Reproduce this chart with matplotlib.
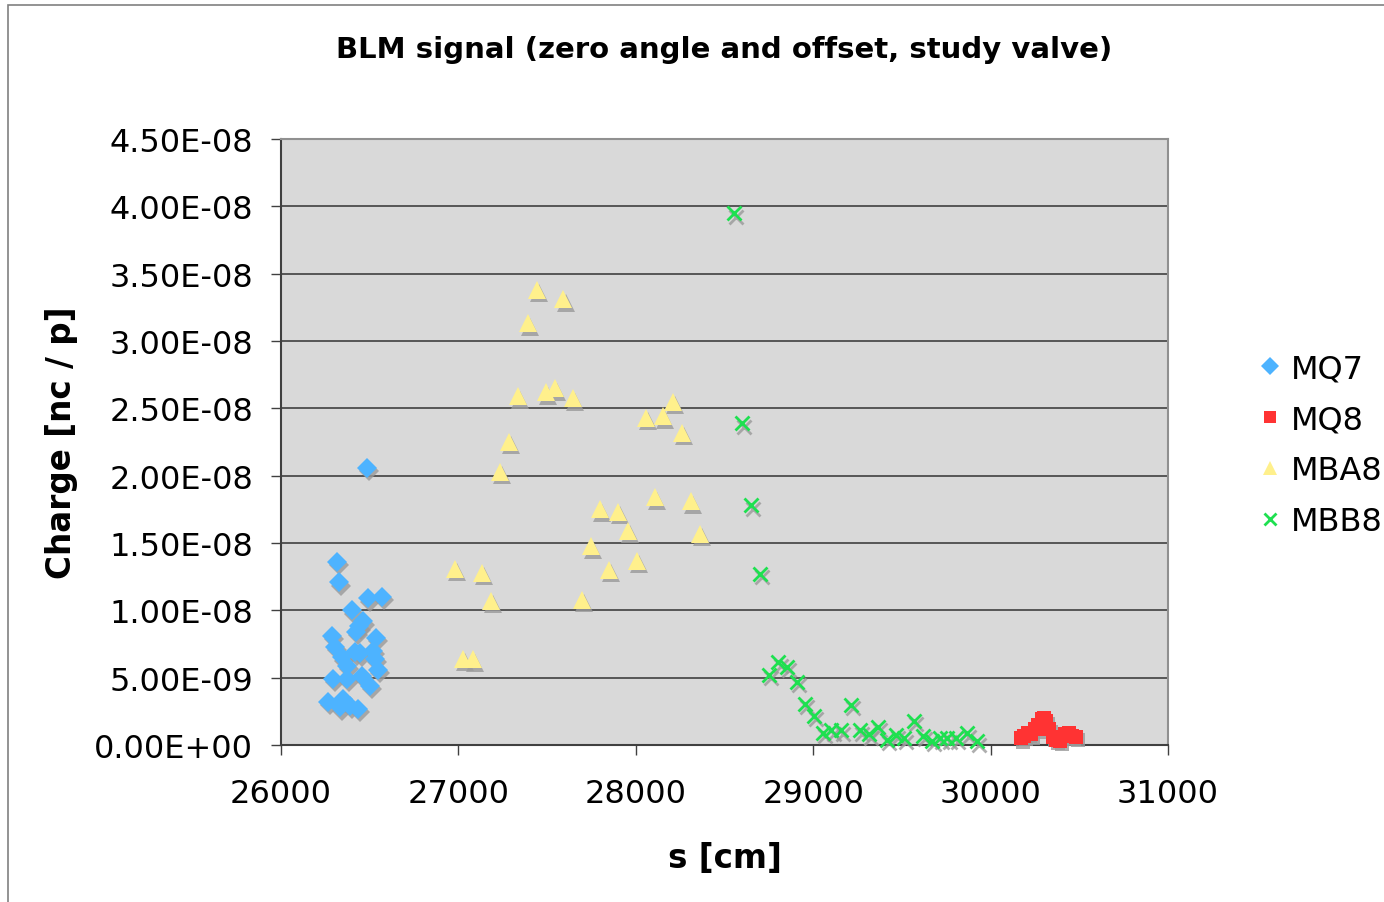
import matplotlib.pyplot as plt
import matplotlib.transforms as mtransforms
from matplotlib.patches import Rectangle
from matplotlib.ticker import FuncFormatter

# MQ7 (blue diamonds)
mq7_s = [26483, 26317, 26329, 26492, 26568, 26400, 26464, 26442, 26423, 26286, 26304,
         26534, 26342, 26370, 26417, 26445, 26520, 26530, 26548, 26295, 26370, 26455,
         26502, 26267, 26351, 26389, 26436, 26333]
mq7_q = [2.06e-8, 1.36e-8, 1.21e-8, 1.09e-8, 1.10e-8, 1.00e-8, 0.92e-8, 0.88e-8, 0.84e-8,
         0.81e-8, 0.73e-8, 0.795e-8, 0.65e-8, 0.59e-8, 0.69e-8, 0.68e-8, 0.70e-8, 0.64e-8,
         0.56e-8, 0.49e-8, 0.49e-8, 0.515e-8, 0.44e-8, 0.32e-8, 0.34e-8, 0.29e-8, 0.27e-8,
         0.28e-8]

# MQ8 (red squares)
mq8_s = [30170, 30190, 30210, 30230, 30250, 30270, 30290, 30300, 30310, 30330, 30350,
         30370, 30390, 30420, 30440, 30460, 30480]
mq8_q = [0.05e-8, 0.07e-8, 0.09e-8, 0.08e-8, 0.12e-8, 0.15e-8, 0.19e-8, 0.20e-8, 0.18e-8,
         0.12e-8, 0.06e-8, 0.04e-8, 0.03e-8, 0.08e-8, 0.09e-8, 0.07e-8, 0.06e-8]

# MBA8 (yellow triangles)
mba8_s = [27441, 27592, 27390, 27338, 27494, 27545, 27644, 28208, 28058, 28155, 28262,
          27287, 27234, 28108, 28311, 27798, 27901, 27954, 28362, 27747, 26981, 27135,
          27849, 28005, 27184, 27698, 27028, 27081]
mba8_q = [3.38e-8, 3.31e-8, 3.13e-8, 2.59e-8, 2.62e-8, 2.65e-8, 2.575e-8, 2.55e-8, 2.43e-8,
          2.44e-8, 2.32e-8, 2.25e-8, 2.03e-8, 1.84e-8, 1.81e-8, 1.75e-8, 1.73e-8, 1.59e-8,
          1.57e-8, 1.475e-8, 1.31e-8, 1.28e-8, 1.30e-8, 1.37e-8, 1.07e-8, 1.08e-8, 0.64e-8,
          0.635e-8]

# MBB8 (green crosses)
mbb8_s = [28551, 28600, 28650, 28701, 28753, 28804, 28854, 28907, 28955, 29006, 29056,
          29103, 29159, 29211, 29262, 29314, 29364, 29417, 29467, 29514, 29566, 29617,
          29667, 29714, 29757, 29804, 29869, 29925]
mbb8_q = [3.95e-8, 2.39e-8, 1.78e-8, 1.27e-8, 0.52e-8, 0.615e-8, 0.58e-8, 0.47e-8, 0.305e-8,
          0.216e-8, 0.09e-8, 0.11e-8, 0.11e-8, 0.30e-8, 0.11e-8, 0.08e-8, 0.135e-8, 0.04e-8,
          0.076e-8, 0.05e-8, 0.18e-8, 0.067e-8, 0.032e-8, 0.05e-8, 0.05e-8, 0.05e-8, 0.086e-8,
          0.027e-8]

x_ticks = [26000, 27000, 28000, 29000, 30000, 31000]
y_ticks = [0, 0.5e-8, 1.0e-8, 1.5e-8, 2.0e-8, 2.5e-8, 3.0e-8, 3.5e-8, 4.0e-8, 4.5e-8]

plt.rcParams['font.family'] = ['DejaVu Sans']

fig = plt.figure(figsize=(13.84, 9.03), dpi=100)
ax = fig.add_axes([281 / 1384, 157 / 903, 887 / 1384, 606 / 903])
ax.set_facecolor('#d9d9d9')

# outer chart border
fig.patches.append(Rectangle((8 / 1384, -0.01), 1.1, 0.9934 + 0.01, transform=fig.transFigure,
                             fill=False, edgecolor='#808080', linewidth=1.2))

shadow = mtransforms.offset_copy(ax.transData, fig=fig, x=1.5, y=-2.5, units='points')

series = [
    ('MQ7', mq7_s, mq7_q, 'D', '#4db3ff', 10.5),
    ('MQ8', mq8_s, mq8_q, 's', '#ff3333', 10.5),
    ('MBA8', mba8_s, mba8_q, '^', '#fff08c', 12.5),
    ('MBB8', mbb8_s, mbb8_q, 'x', '#1ee050', 10),
]

for name, xs, ys, m, c, ms in series:
    mew = 2 if m == 'x' else 0
    ax.plot(xs, ys, ls='none', marker=m, ms=ms, mew=mew, color='#9a9a9a', alpha=0.8,
            transform=shadow, clip_on=False, zorder=3)
    ax.plot(xs, ys, ls='none', marker=m, ms=ms, mew=mew, color=c, label=name,
            clip_on=False, zorder=4)

ax.set_xlim(26000, 31000)
ax.set_ylim(0, 4.5e-8)
ax.set_xticks(x_ticks)
ax.set_yticks(y_ticks)
ax.yaxis.set_major_formatter(FuncFormatter(lambda v, p: '%.2E' % v))
ax.grid(axis='y', color='#404040', linewidth=1.2, zorder=1)
ax.set_axisbelow(True)

ax.tick_params(axis='both', direction='out', length=7, width=1, color='#404040',
               labelsize=23)
ax.tick_params(axis='x', pad=17)
ax.tick_params(axis='y', pad=13)
for side in ['left', 'bottom']:
    ax.spines[side].set_color('#404040')
    ax.spines[side].set_linewidth(1.5)
for side in ['right', 'top']:
    ax.spines[side].set_color('#909090')
    ax.spines[side].set_linewidth(1.5)

ax.set_title('BLM signal (zero angle and offset, study valve)', fontsize=21,
             fontweight='bold', pad=59)
ax.set_xlabel('s [cm]', fontsize=23.5, fontweight='bold', labelpad=23)
ax.set_ylabel('Charge [nc / p]', fontsize=23.5, fontweight='bold', labelpad=12)

handles, labels = ax.get_legend_handles_labels()
leg = fig.legend(handles, labels, loc='center left', bbox_to_anchor=(1246 / 1384, 1 - 446 / 903),
                 frameon=False, fontsize=23, labelspacing=0.62, handlelength=0.7,
                 handletextpad=0.3, markerscale=0.85, borderaxespad=0)

fig.savefig('out.png', dpi=100)
